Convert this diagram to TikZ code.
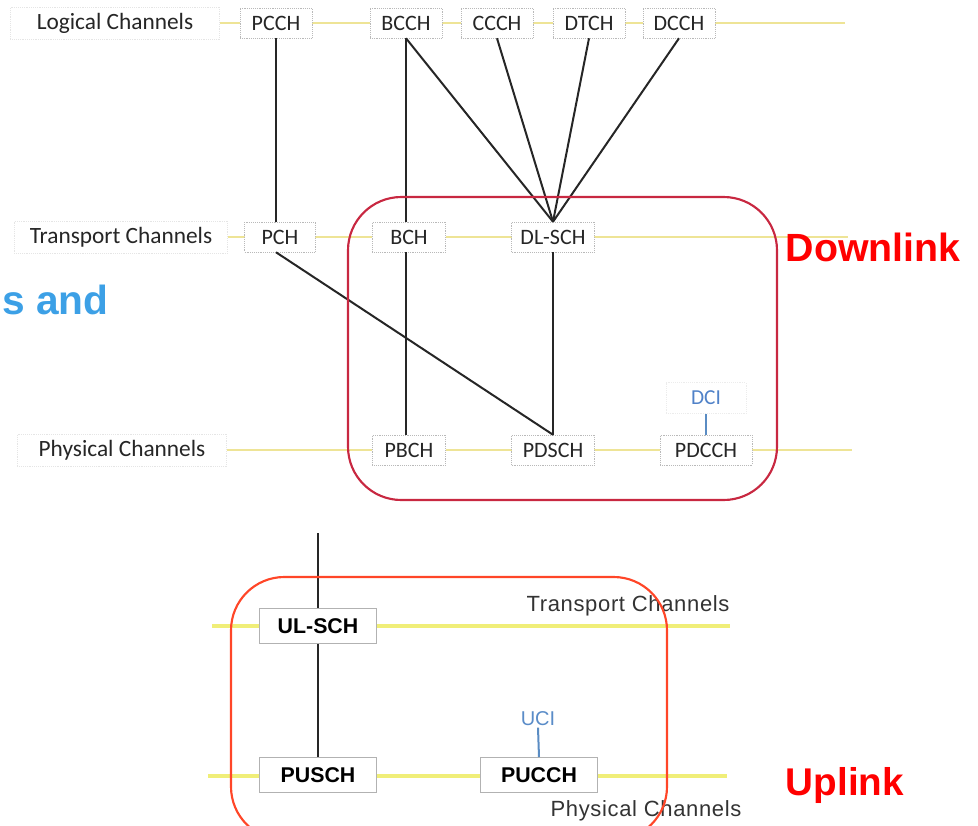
\documentclass[tikz,border=0pt]{standalone}
\usepackage{fontspec}
\setmainfont{Carlito}
\newfontfamily\arialf{Liberation Sans}
\newfontfamily\arialsp[LetterSpace=3]{Liberation Sans}
\begin{document}
\begin{tikzpicture}[x=0.75pt,y=-0.75pt,
  chbox/.style={draw=gray!55, densely dotted, fill=white, minimum height=22.5pt, inner sep=0pt, font=\fontsize{16.5}{18}\selectfont, text=black!85},
  lblbox/.style={draw=gray!20, densely dotted, fill=white, minimum height=24pt, inner sep=0pt, font=\fontsize{17.5}{19}\selectfont, text=black!85},
  ybar/.style={draw={rgb,255:red,238;green,228;blue,150}, line width=1.3pt},
  ybarb/.style={draw={rgb,255:red,240;green,238;blue,120}, line width=2.6pt},
  link/.style={draw=black!85, line width=1.5pt},
  bluelink/.style={draw={rgb,255:red,90;green,140;blue,195}, line width=1.8pt},
  ubox/.style={draw=gray!60, fill=white, line width=1pt, minimum height=26pt, minimum width=88pt, inner sep=0pt, font=\arialf\bfseries\fontsize{16}{18}\selectfont},
  utext/.style={font=\arialsp\fontsize{16.5}{18}\selectfont, text=black!80}
]
\useasboundingbox (0,0) rectangle (978,825);
% ---- yellow rails (top) ----
\coordinate (l1a) at (220,23); \coordinate (l1b) at (845,23);
\coordinate (l2a) at (228,237); \coordinate (l2b) at (848,237);
\coordinate (l3a) at (227,450); \coordinate (l3b) at (852,450);
\draw[ybar] (l1a) -- (l1b);
\draw[ybar] (l2a) -- (l2b);
\draw[ybar] (l3a) -- (l3b);
% ---- label boxes ----
\node[lblbox, minimum width=157pt] (lg) at (115,23) {Logical Channels};
\node[lblbox, minimum width=160pt] (tr) at (121,237) {Transport Channels};
\node[lblbox, minimum width=157pt] (ph) at (122,450) {Physical Channels};
% ---- logical ----
\node[chbox, minimum width=54pt] (pcch) at (276,23) {PCCH};
\node[chbox, minimum width=54pt] (bcch) at (406,23) {BCCH};
\node[chbox, minimum width=54pt] (ccch) at (497,23) {CCCH};
\node[chbox, minimum width=54pt] (dtch) at (589,23) {DTCH};
\node[chbox, minimum width=54pt] (dcch) at (679,23) {DCCH};
% ---- transport ----
\node[chbox, minimum width=53pt] (pch) at (280,237) {PCH};
\node[chbox, minimum width=55pt] (bch) at (409,237) {BCH};
\node[chbox, minimum width=62pt] (dlsch) at (553,237) {DL-SCH};
% ---- physical ----
\node[chbox, minimum width=55pt] (pbch) at (409,450) {PBCH};
\node[chbox, minimum width=62pt] (pdsch) at (553,450) {PDSCH};
\node[chbox, minimum width=69pt] (pdcch) at (706,450) {PDCCH};
\node[draw=gray!15, densely dotted, minimum width=60pt, minimum height=23pt, inner sep=0pt, text={rgb,255:red,80;green,130;blue,200}, font=\fontsize{16}{18}\selectfont] (dci) at (706,398) {DCI};
% ---- connectors ----
\draw[link] (pcch.south) -- (pch.north -| pcch.south);
\draw[link] (bcch.south) -- (bch.north -| bcch.south);
\draw[link] (bcch.south) -- (dlsch.north);
\draw[link] (ccch.south) -- (dlsch.north);
\draw[link] (dtch.south) -- (dlsch.north);
\draw[link] (dcch.south) -- (dlsch.north);
\draw[link] (bch.south -| bcch.south) -- (pbch.north -| bcch.south);
\draw[link] (pch.south -| pcch.south) -- (pdsch.north);
\draw[link] (dlsch.south) -- (pdsch.north);
\draw[bluelink] (dci.south) -- (pdcch.north);
% ---- downlink frame ----
\draw[draw={rgb,255:red,200;green,40;blue,65}, line width=1.6pt, rounded corners=40pt] (348,197) rectangle (777,500);
\node[font=\arialf\bfseries\fontsize{29.5}{32}\selectfont, text=red] (dl) at (873,247) {Downlink};
\node[anchor=west, inner sep=0pt, font=\arialf\bfseries\fontsize{30.5}{34}\selectfont, text={rgb,255:red,60;green,160;blue,230}] (sand) at (2,300) {s and};
% ---- uplink ----
\coordinate (u1a) at (212,626); \coordinate (u1b) at (730,626);
\coordinate (u2a) at (208,776); \coordinate (u2b) at (727,776);
\draw[ybarb] (u1a) -- (u1b);
\draw[ybarb] (u2a) -- (u2b);
\node[ubox] (ulsch) at (318,626) {UL-SCH};
\node[ubox] (pusch) at (318,775) {PUSCH};
\node[ubox] (pucch) at (539,775) {PUCCH};
\node[utext] (ttxt) at (628,606) {Transport Channels};
\node[utext] (ptxt) at (646,811) {Physical Channels};
\node[font=\arialf\fontsize{15}{18}\selectfont, text={rgb,255:red,90;green,140;blue,200}, inner sep=1pt] (uci) at (538,719) {UCI};
\coordinate (ultop) at (318,533);
\draw[link, line width=1.3pt] (ultop) -- (ulsch.north);
\draw[link, line width=1.3pt] (ulsch.south) -- (pusch.north);
\draw[bluelink, line width=1.5pt] (uci.south) -- (pucch.north);
\draw[draw={rgb,255:red,255;green,70;blue,40}, line width=1.6pt, rounded corners=40pt] (231,577) rectangle (667,840);
\node[font=\arialf\bfseries\fontsize{29}{32}\selectfont, text=red] (ul) at (845,785) {Uplink};
\end{tikzpicture}
\end{document}
